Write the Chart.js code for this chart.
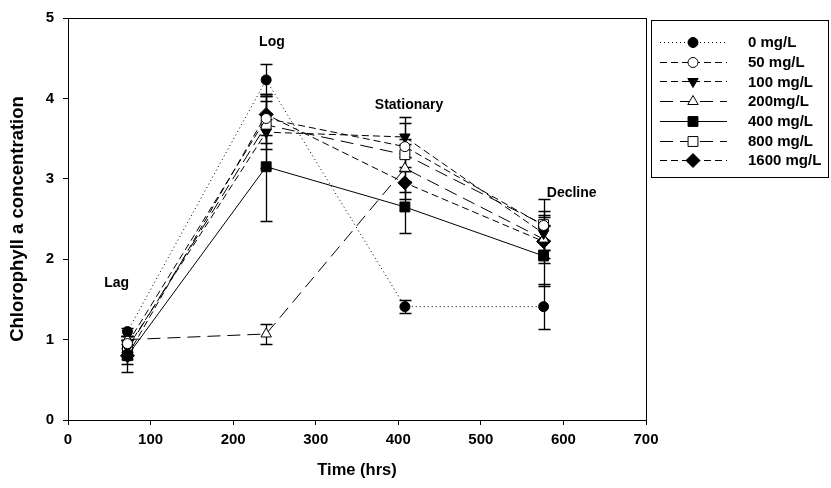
<!DOCTYPE html>
<html>
<head>
<meta charset="utf-8">
<script src="https://cdn.jsdelivr.net/npm/chart.js@4.4.1/dist/chart.umd.min.js"></script>
<style>
  html, body { margin: 0; padding: 0; background: #fff; }
  #wrap { position: relative; width: 831px; height: 488px; }
</style>
</head>
<body>
<div id="wrap"><canvas id="chl-chart" width="831" height="488"></canvas></div>
<script>
// sampling times (hrs)
const hours = [72, 240, 408, 576];

// mean chlorophyll a per concentration
const conc0 = [1.10, 4.23, 1.41, 1.41];
const conc50 = [0.95, 3.75, 3.40, 2.42];
const conc100 = [0.90, 3.58, 3.52, 2.32];
const conc200 = [1.00, 1.07, 3.13, 2.25];
const conc400 = [0.80, 3.15, 2.65, 2.04];
const conc800 = [0.88, 3.67, 3.30, 2.43];
const conc1600 = [0.80, 3.80, 2.95, 2.22];

// error bar half widths
const err0 = [0.05, 0.20, 0.08, 0.28];
const err50 = [0.10, 0.30, 0.30, 0.18];
const err100 = [0.10, 0.45, 0.25, 0.20];
const err200 = [0.05, 0.12, 0.30, 0.30];
const err400 = [0.20, 0.67, 0.32, 0.37];
const err800 = [0.12, 0.30, 0.20, 0.32];
const err1600 = [0.10, 0.25, 0.20, 0.20];

const seriesNames = ["0 mg/L", "50 mg/L", "100 mg/L", "200mg/L", "400 mg/L", "800 mg/L", "1600 mg/L"];
const xTicks = [0, 100, 200, 300, 400, 500, 600, 700];
const yTicks = [0, 1, 2, 3, 4, 5];

// growth phase labels [text, hrs, value]
const phaseLabels = [["Lag", 59, 1.70], ["Log", 247, 4.70], ["Stationary", 413, 3.92], ["Decline", 610, 2.82]];

const FONT = "'Liberation Sans', Arial, sans-serif";

function mkSet(label, vals, errs, style) {
  return Object.assign({
    label: label,
    data: hours.map((h, i) => ({ x: h, y: vals[i] })),
    errors: errs,
    borderColor: "#000",
    borderWidth: 1,
    pointBorderColor: "#000",
    pointBorderWidth: 1,
    tension: 0,
    fill: false
  }, style);
}

const datasets = [
  mkSet(seriesNames[0], conc0, err0, { borderDash: [1, 3], pointStyle: "circle", pointRadius: 5, pointBackgroundColor: "#000" }),
  mkSet(seriesNames[1], conc50, err50, { borderDash: [7, 4], pointStyle: "circle", pointRadius: 5, pointBackgroundColor: "#fff" }),
  mkSet(seriesNames[2], conc100, err100, { borderDash: [7, 4], pointStyle: "triangle", pointRotation: 180, pointRadius: 6, pointBackgroundColor: "#000" }),
  mkSet(seriesNames[3], conc200, err200, { borderDash: [13, 7], pointStyle: "triangle", pointRadius: 6, pointBackgroundColor: "#fff" }),
  mkSet(seriesNames[4], conc400, err400, { pointStyle: "rect", pointRadius: 7, pointBackgroundColor: "#000" }),
  mkSet(seriesNames[5], conc800, err800, { borderDash: [13, 7], pointStyle: "rect", pointRadius: 7, pointBackgroundColor: "#fff" }),
  mkSet(seriesNames[6], conc1600, err1600, { borderDash: [7, 4], pointStyle: "rectRot", pointRadius: 7, pointBackgroundColor: "#000" })
];

// error bars, plot frame and phase labels
const extrasPlugin = {
  id: "extras",
  beforeDatasetsDraw(chart) {
    const ctx = chart.ctx;
    const xs = chart.scales.x, ys = chart.scales.y;
    ctx.save();
    ctx.strokeStyle = "#000";
    ctx.lineWidth = 1.3;
    chart.data.datasets.forEach(ds => {
      ds.data.forEach((p, i) => {
        const e = ds.errors[i];
        const px = Math.round(xs.getPixelForValue(p.x)) + 0.5;
        const yt = Math.round(ys.getPixelForValue(p.y + e)) + 0.5;
        const yb = Math.round(ys.getPixelForValue(p.y - e)) + 0.5;
        ctx.beginPath();
        ctx.moveTo(px, yt); ctx.lineTo(px, yb);
        ctx.moveTo(px - 6, yt); ctx.lineTo(px + 6, yt);
        ctx.moveTo(px - 6, yb); ctx.lineTo(px + 6, yb);
        ctx.stroke();
      });
    });
    ctx.restore();
  },
  afterDraw(chart) {
    const ctx = chart.ctx;
    const a = chart.chartArea;
    const xs = chart.scales.x, ys = chart.scales.y;
    ctx.save();
    ctx.strokeStyle = "#000";
    ctx.lineWidth = 1;
    ctx.strokeRect(Math.round(a.left) + 0.5, Math.round(a.top) + 0.5, Math.round(a.right - a.left), Math.round(a.bottom - a.top));

    ctx.fillStyle = "#000";
    ctx.font = "bold 14px " + FONT;
    ctx.textAlign = "center";
    ctx.textBaseline = "middle";
    phaseLabels.forEach(l => {
      ctx.fillText(l[0], xs.getPixelForValue(l[1]), ys.getPixelForValue(l[2]));
    });

    // legend box
    const bx = 651, by = 20, bw = 177, bh = 157;
    ctx.strokeRect(bx + 0.5, by + 0.5, bw, bh);
    ctx.textAlign = "left";
    ctx.font = "bold 15px " + FONT;
    chart.data.datasets.forEach((ds, i) => {
      const yy = by + 22 + i * 19.7;
      ctx.beginPath();
      ctx.setLineDash(ds.borderDash || []);
      ctx.lineWidth = 1;
      ctx.moveTo(660, Math.round(yy) + 0.5);
      ctx.lineTo(727, Math.round(yy) + 0.5);
      ctx.stroke();
      ctx.setLineDash([]);
      ctx.fillStyle = ds.pointBackgroundColor;
      Chart.helpers.drawPoint(ctx, {
        pointStyle: ds.pointStyle,
        rotation: ds.pointRotation || 0,
        radius: ds.pointRadius,
        borderWidth: 1
      }, 693, Math.round(yy) + 0.5);
      ctx.fillStyle = "#000";
      ctx.fillText(ds.label, 748, yy + 1);
    });
    ctx.restore();
  }
};

const ctxChl = document.getElementById("chl-chart").getContext("2d");
const chlChart = new Chart(ctxChl, {
  type: "line",
  data: { datasets: datasets },
  plugins: [extrasPlugin],
  options: {
    responsive: false,
    animation: false,
    layout: { padding: { left: 0, right: 185, top: 18, bottom: 0 } },
    plugins: {
      legend: { display: false },
      tooltip: { enabled: false }
    },
    scales: {
      x: {
        type: "linear",
        min: 0,
        max: 700,
        afterFit: s => { s.height = 68; },
        afterBuildTicks: s => { s.ticks = xTicks.map(v => ({ value: v })); },
        grid: { drawOnChartArea: false, drawTicks: true, tickLength: 5, color: "#000" },
        border: { color: "#000", width: 1 },
        ticks: { color: "#000", padding: 6, maxRotation: 0, font: { family: FONT, size: 15, weight: "bold" } },
        title: { display: true, text: "Time (hrs)", color: "#000", padding: { top: 0, bottom: 8 }, font: { family: FONT, size: 16.5, weight: "bold" } }
      },
      y: {
        type: "linear",
        min: 0,
        max: 5,
        afterFit: s => { s.width = 68; },
        afterBuildTicks: s => { s.ticks = yTicks.map(v => ({ value: v })); },
        grid: { drawOnChartArea: false, drawTicks: true, tickLength: 5, color: "#000" },
        border: { color: "#000", width: 1 },
        ticks: { color: "#000", padding: 9, font: { family: FONT, size: 15, weight: "bold" } },
        title: { display: true, text: "Chlorophyll a concentration", color: "#000", padding: { top: 7, bottom: 0 }, font: { family: FONT, size: 18.5, weight: "bold" } }
      }
    }
  }
});
</script>
</body>
</html>
